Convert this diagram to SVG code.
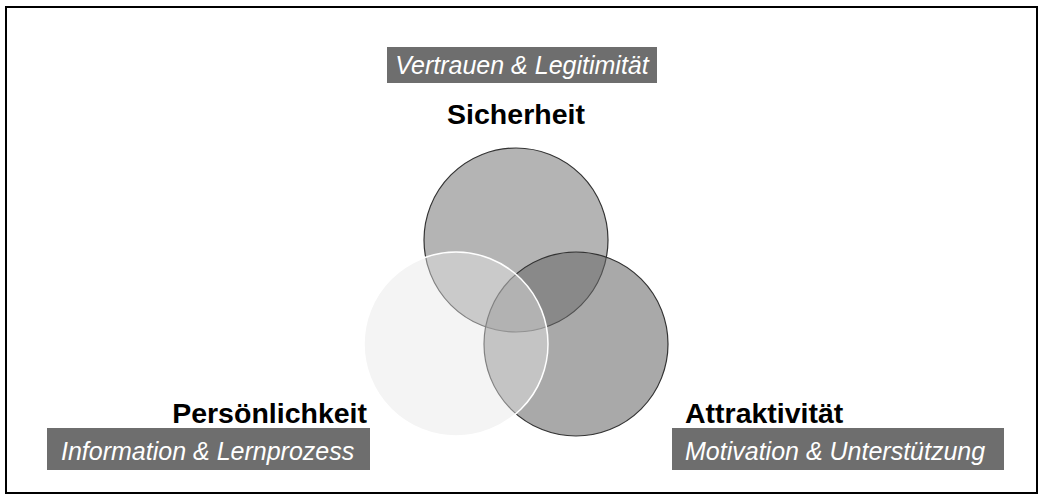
<svg xmlns="http://www.w3.org/2000/svg" width="1043" height="500" viewBox="0 0 1043 500">
<style>
.title{font-family:"Liberation Sans",Arial,sans-serif;font-weight:bold;font-size:28.5px;fill:#000}
.sub{font-family:"Liberation Sans",Arial,sans-serif;font-style:italic;font-size:25px;fill:#fff}
.band{fill:#6e6e6e}
</style>
<rect x="0" y="0" width="1043" height="500" fill="#fff"/>
<rect x="6" y="7" width="1031" height="486" fill="none" stroke="#000" stroke-width="2"/>
<g id="sicherheit">
<circle cx="516" cy="240" r="92" fill="#6a6a6a" fill-opacity="0.5" stroke="#333" stroke-width="1.2"/>
<rect class="band" x="387" y="47" width="270" height="36"/>
<text class="sub" x="522" y="74" text-anchor="middle">Vertrauen &amp; Legitimität</text>
<text class="title" x="516" y="124" text-anchor="middle">Sicherheit</text>
</g>
<g id="attraktivitaet">
<circle cx="576" cy="344" r="92" fill="#676767" fill-opacity="0.57" stroke="#333" stroke-width="1.2"/>
<text class="title" x="685" y="423">Attraktivität</text>
<rect class="band" x="672" y="428" width="332" height="42"/>
<text class="sub" x="685" y="460">Motivation &amp; Unterstützung</text>
</g>
<g id="persoenlichkeit">
<circle cx="456" cy="344" r="92" fill="#e6e6e6" fill-opacity="0.44" stroke="#fff" stroke-width="1.5"/>
<text class="title" x="367" y="423" text-anchor="end">Persönlichkeit</text>
<rect class="band" x="47" y="428" width="323" height="42"/>
<text class="sub" x="61" y="460">Information &amp; Lernprozess</text>
</g>
<g id="connectors"/>
</svg>
